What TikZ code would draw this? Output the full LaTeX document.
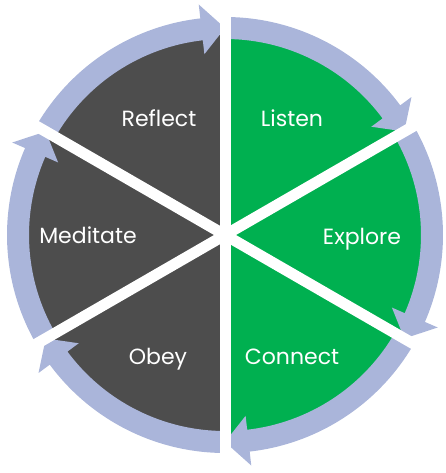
\documentclass[tikz,border=0pt]{standalone}
\usepackage{fontspec}
\setmainfont{Poppins}
\definecolor{darkseg}{RGB}{77,77,77}
\definecolor{greenseg}{RGB}{0,176,80}
\definecolor{ringc}{RGB}{170,181,218}
\begin{document}
\begin{tikzpicture}[x=1pt,y=1pt,
  lbl/.style={text=white, font=\fontsize{22}{24}\selectfont, anchor=base, inner sep=0pt},
  gapline/.style={white, line width=11pt},
  ringseg/.style={fill=ringc, draw=none}]
\useasboundingbox (-225,-238) rectangle (221,235);
\fill[darkseg] (0,0) -- (90:200) arc (90:270:200) -- cycle;
\fill[greenseg] (0,0) -- (-90:200) arc (-90:90:200) -- cycle;
\foreach \s in {90,30,-30,-90,-150,-210} {
  \pgfmathsetmacro\e{\s-60}
  \pgfmathsetmacro\b{\e+6.5}
  \fill[ringseg] (\s:196) arc (\s:\b:196) -- (\b:182) -- (\e:207) -- (\b:232) -- (\b:218) arc (\b:\s:218) -- cycle;
}
\foreach \a in {90,30,-30,-90,-150,150} \draw[gapline] (0,0) -- (\a:245);
\node[lbl] (reflect) at (-66,108) {Reflect};
\node[lbl] (listen) at (67,108) {Listen};
\node[lbl] (meditate) at (-137,-9) {Meditate};
\node[lbl] (explore) at (137,-10) {Explore};
\node[lbl] (obey) at (-67,-129) {Obey};
\node[lbl] (connect) at (67,-129) {Connect};
\end{tikzpicture}
\end{document}
